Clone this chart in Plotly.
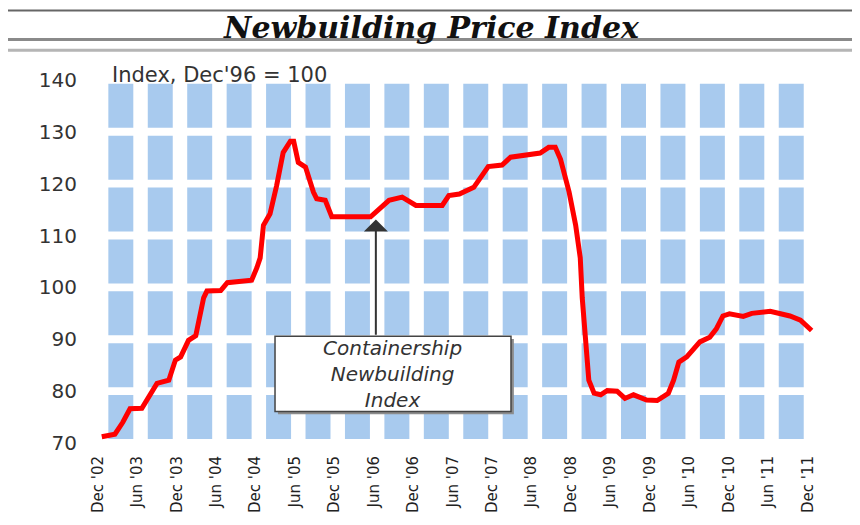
import plotly.graph_objects as go

# ---- data (months since Dec 2002, index value) ----
months = [0.6, 2.6, 3.8, 4.9, 6.7, 9.0, 10.8, 11.8, 12.6, 13.8, 14.9, 16.1, 16.6,
          18.7, 19.7, 23.4, 24.2, 24.7, 25.2, 26.2, 27.2, 28.2, 29.3, 29.8, 30.5,
          31.6, 32.8, 33.3, 34.6, 35.6, 41.5, 44.3, 46.3, 48.4, 52.4, 53.4, 55.0,
          57.2, 59.4, 61.5, 62.8, 64.3, 67.3, 68.6, 69.6, 70.4, 71.7, 72.7, 73.4,
          73.7, 74.2, 74.7, 75.5, 76.5, 77.5, 79.0, 80.2, 81.5, 83.5, 85.1, 86.8,
          87.6, 88.4, 89.6, 91.6, 93.1, 94.1, 95.1, 96.1, 98.2, 99.5, 102.3, 105.3,
          106.9, 108.6]
values = [71.2, 71.7, 74.0, 76.6, 76.7, 81.5, 82.1, 86.0, 86.6, 89.8, 90.7, 98.0, 99.3,
          99.4, 100.9, 101.4, 103.8, 105.7, 112.0, 114.2, 119.6, 126.0, 128.2, 128.2, 124.1,
          123.2, 118.4, 117.1, 116.8, 113.6, 113.6, 116.8, 117.4, 115.8, 115.8, 117.7, 118.0,
          119.3, 123.3, 123.6, 125.1, 125.4, 125.9, 127.0, 127.0, 124.7, 118.4, 112.0, 105.7,
          98.0, 88.5, 82.1, 79.6, 79.3, 80.1, 80.0, 78.6, 79.3, 78.3, 78.2, 79.6,
          82.1, 85.6, 86.6, 89.5, 90.4, 92.0, 94.5, 94.9, 94.4, 95.0, 95.4, 94.5,
          93.7, 91.7]

tick_months = list(range(0, 109, 6))
tick_labels = ["Dec '02", "Jun '03", "Dec '03", "Jun '04", "Dec '04", "Jun '05",
               "Dec '05", "Jun '06", "Dec '06", "Jun '07", "Dec '07", "Jun '08",
               "Dec '08", "Jun '09", "Dec '09", "Jun '10", "Dec '10", "Jun '11",
               "Dec '11"]
y_ticks = [70, 80, 90, 100, 110, 120, 130, 140]

title_text = "Newbuilding Price Index"
unit_text = "Index, Dec'96 = 100"
box_text = "Containership<br>Newbuilding<br>Index"

TILE = "#A8CAEE"

fig = go.Figure()

# background tiles: one column per half-year, split at every gridline
shapes = []
for a, b in zip(tick_months[:-1], tick_months[1:]):
    for lo, hi in zip(y_ticks[:-1], y_ticks[1:]):
        shapes.append(dict(type="rect", xref="x", yref="y", layer="below",
                           x0=a + 1.6, x1=b - 0.6, y0=lo + 0.76, y1=hi - 0.76,
                           fillcolor=TILE, line=dict(width=0)))

# header rules
for yy, col, w in [(1.174, "#666666", 2), (1.096, "#8a8a8a", 3), (1.067, "#b5b5b5", 3)]:
    shapes.append(dict(type="line", xref="paper", yref="paper",
                       x0=-0.12, x1=1.06, y0=yy, y1=yy,
                       line=dict(color=col, width=w)))

# callout box shadow and box
shapes.append(dict(type="rect", xref="x", yref="y", layer="above",
                   x0=27.4, x1=63.3, y0=75.55, y1=90.05,
                   fillcolor="#8c8c8c", line=dict(width=0)))
shapes.append(dict(type="rect", xref="x", yref="y", layer="above",
                   x0=26.96, x1=62.86, y0=76.1, y1=90.6,
                   fillcolor="#ffffff", line=dict(color="#444444", width=1.5)))

fig.add_trace(go.Scatter(x=months, y=values, mode="lines",
                         line=dict(color="#FF0000", width=5),
                         hoverinfo="skip", showlegend=False))

annotations = [
    dict(text=title_text, xref="paper", yref="paper", x=0.469, y=1.128,
         xanchor="center", yanchor="middle", showarrow=False,
         font=dict(family="DejaVu Serif", size=30, color="#111111",
                   weight="bold", style="italic")),
    dict(text=unit_text, xref="x", yref="paper", x=1.8, y=1.0,
         xanchor="left", yanchor="middle", showarrow=False,
         font=dict(family="DejaVu Sans", size=21, color="#333333")),
    # arrow
    dict(text="", xref="x", yref="y", x=42.3, y=113.1,
         axref="x", ayref="y", ax=42.3, ay=90.6,
         showarrow=True, arrowhead=1, arrowsize=2, arrowwidth=2,
         arrowcolor="#333333"),
    dict(text=box_text, xref="x", yref="y", x=44.9, y=83.35,
         xanchor="center", yanchor="middle", showarrow=False,
         font=dict(family="DejaVu Sans", size=20, color="#333333",
                   style="italic")),
]

# the page body adds an 8px offset; the figure is sized so the plot area
# lands where the reference's does
fig.update_layout(
    width=852, height=517,
    margin=dict(l=82, r=42, t=67, b=75),
    paper_bgcolor="white", plot_bgcolor="white",
    shapes=shapes, annotations=annotations,
    showlegend=False,
    xaxis=dict(range=[-1.19, 109.57], tickmode="array", tickvals=tick_months,
               ticktext=tick_labels, tickangle=-90, showgrid=False,
               zeroline=False, showline=False, ticks="",
               ticklabelstandoff=6,
               tickfont=dict(family="DejaVu Sans", size=15, color="#222222")),
    yaxis=dict(range=[69.43, 140.95], tickmode="array", tickvals=y_ticks,
               showgrid=False, zeroline=False, showline=False, ticks="",
               ticklabelstandoff=12,
               tickfont=dict(family="DejaVu Sans", size=20, color="#333333")),
)

fig.write_html("out.html")
